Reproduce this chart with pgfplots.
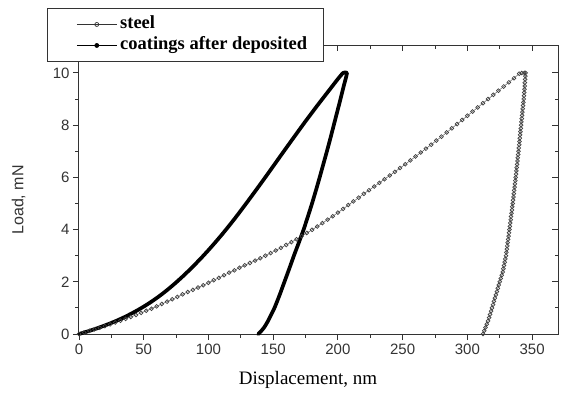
\documentclass[border=0pt]{standalone}
\usepackage{fontspec}
\setmainfont{Liberation Serif}
\setsansfont{Liberation Sans}
\usepackage{pgfplots}
\usepackage{pgfplotstable}
\pgfplotsset{compat=1.18}

\pgfplotstableread{
x y
0 0
4 0.06
8 0.12
12 0.18
16 0.24
20 0.30
24 0.37
28 0.44
32 0.51
36 0.58
40 0.65
44 0.73
48 0.81
52 0.89
56 0.97
60 1.06
64 1.15
68 1.24
72 1.33
76 1.42
80 1.52
84 1.61
88 1.69
92 1.78
96 1.87
100 1.96
104 2.06
108 2.15
112 2.25
116 2.35
120 2.44
124 2.54
128 2.63
132 2.72
136 2.81
140 2.90
144 3.00
148 3.10
152 3.20
156 3.30
160 3.41
164 3.52
168 3.63
172 3.75
176 3.87
180 3.99
184 4.12
188 4.25
192 4.38
196 4.51
200 4.65
204 4.79
208 4.94
212 5.08
216 5.22
220 5.37
224 5.51
228 5.65
232 5.79
236 5.93
240 6.07
244 6.21
248 6.36
252 6.50
256 6.65
260 6.80
264 6.95
268 7.10
272 7.25
276 7.41
280 7.56
284 7.72
288 7.88
292 8.04
296 8.20
300 8.36
304 8.52
308 8.68
312 8.84
316 9.00
320 9.16
324 9.32
328 9.48
332 9.64
336 9.80
340 9.97
342 10.0
344 10.0
345 10.0
344.8 9.875
344.6 9.75
344.4 9.625
344.25 9.5
344.1 9.375
343.9 9.25
343.7 9.125
343.5 9.0
343.25 8.875
343.0 8.75
342.75 8.625
342.5 8.5
342.25 8.375
342.0 8.25
341.75 8.125
341.5 8.0
341.25 7.875
341.0 7.75
340.75 7.625
340.5 7.5
340.25 7.375
340.0 7.25
339.75 7.125
339.5 7.0
339.2 6.875
338.95 6.75
338.7 6.625
338.4 6.5
338.1 6.375
337.85 6.25
337.6 6.125
337.3 6.0
337.0 5.875
336.7 5.75
336.45 5.625
336.15 5.5
335.85 5.375
335.6 5.25
335.3 5.125
335.0 5.0
334.7 4.875
334.4 4.75
334.05 4.625
333.75 4.5
333.45 4.375
333.1 4.25
332.8 4.125
332.5 4.0
332.15 3.875
331.8 3.75
331.5 3.625
331.15 3.5
330.8 3.375
330.5 3.25
330.1 3.125
329.8 3.0
329.3 2.875
328.8 2.75
328.3 2.625
327.8 2.5
327.3 2.375
326.6 2.25
325.8 2.125
325.0 2.0
324.2 1.875
323.5 1.75
322.8 1.625
322.0 1.5
321.2 1.375
320.5 1.25
319.8 1.125
319.0 1.0
318.3 0.875
317.5 0.75
316.8 0.625
316.0 0.5
315.0 0.375
314.0 0.25
313.0 0.125
312.0 0
}\steel

\pgfplotstableread{
x y
0 0
5 0.073
10 0.152
15 0.237
20 0.328
25 0.425
30 0.530
35 0.645
40 0.770
45 0.905
50 1.05
55 1.207
60 1.378
65 1.563
70 1.762
75 1.975
80 2.20
85 2.437
90 2.685
95 2.943
100 3.213
105 3.494
110 3.785
115 4.088
120 4.401
125 4.726
130 5.058
135 5.394
140 5.734
145 6.078
150 6.426
155 6.775
160 7.122
165 7.467
170 7.81
175 8.151
180 8.48
185 8.81
190 9.13
195 9.45
200 9.77
204 10.0
207 10.0
204.5 9.5
202.0 9.0
199.4 8.5
196.8 8.0
194.2 7.5
191.5 7.0
188.7 6.5
185.9 6.0
183.0 5.5
180.0 5.0
176.8 4.5
173.5 4.0
169.8 3.5
166.0 3.0
162.4 2.5
158.7 2.0
155.0 1.5
151.0 1.0
146.0 0.5
143.0 0.25
140.5 0.1
138.5 0
}\coat

\begin{document}
\begin{tikzpicture}
\useasboundingbox (-79pt,-58pt) rectangle (482pt,334pt);
% frame with inner ticks on top and right
\begin{axis}[
  at={(0pt,0pt)}, anchor=south west,
  scale only axis, width=479pt, height=289pt,
  xmin=0, xmax=370, ymin=0, ymax=11.07,
  xtick={0,50,...,350}, ytick={0,2,...,10},
  minor xtick={25,75,...,375}, minor ytick={1,3,...,9},
  xtick pos=right, ytick pos=right, tick align=inside,
  xticklabels={}, yticklabels={},
  major tick length=6pt, minor tick length=3.5pt,
  every tick/.style={black!80, line width=0.9pt},
  axis line style={black!80, line width=1pt},
]
\end{axis}
\begin{axis}[
  at={(0pt,0pt)}, anchor=south west,
  scale only axis, width=479pt, height=289pt,
  xmin=0, xmax=370, ymin=0, ymax=11.07,
  clip=false,
  xtick={0,50,...,350}, ytick={0,2,...,10},
  minor xtick={25,75,...,375}, minor ytick={1,3,...,9},
  xtick pos=left, ytick pos=left, tick align=outside,
  major tick length=6pt, minor tick length=3.5pt,
  every tick/.style={black!80, line width=0.9pt},
  axis line style={black!80, line width=1pt},
  ticklabel style={font=\sffamily\fontsize{15}{17}\selectfont, text=black!80},
  /pgf/number format/assume math mode=true,
  xlabel={Displacement, nm}, ylabel={\sffamily Load, mN},
  xlabel style={font=\fontsize{19}{22}\selectfont, at={(axis description cs:0.478,-0.159)}, anchor=center},
  ylabel style={font=\sffamily\fontsize{16}{18}\selectfont, text=black!80, at={(axis description cs:-0.126,0.464)}, anchor=center},
  legend cell align=left,
  legend image code/.code={\path (0pt,0pt); \draw[mark repeat=2, mark phase=2, #1] plot coordinates {(13pt,0pt) (33pt,0pt) (53pt,0pt)};},
  legend style={at={(axis description cs:-0.0668,1.128)}, anchor=north west,
    draw=black!80, line width=0.9pt, fill=white,
    font=\bfseries\fontsize{18.5}{21}\selectfont,
    inner xsep=16pt, inner ysep=7pt, column sep=3pt, row sep=3pt,
    nodes={inner sep=0pt, text height=13.5pt, text depth=4.5pt}},
]
\addplot[black!75, line width=0.4pt, mark=o, mark size=1.9pt, mark options={line width=0.7pt, solid}, forget plot] table[x=x, y=y] {\steel};
\addplot[black, line width=3.7pt, smooth, tension=0.3, line join=round, line cap=round, forget plot] table[x=x, y=y] {\coat};
\addlegendimage{black!80, line width=0.7pt, mark=o, mark size=2pt, mark options={line width=0.7pt}}
\addlegendentry{steel}
\addlegendimage{black, line width=0.7pt, mark=*, mark size=2pt}
\addlegendentry{coatings after deposited}
\end{axis}
\end{tikzpicture}
\end{document}
